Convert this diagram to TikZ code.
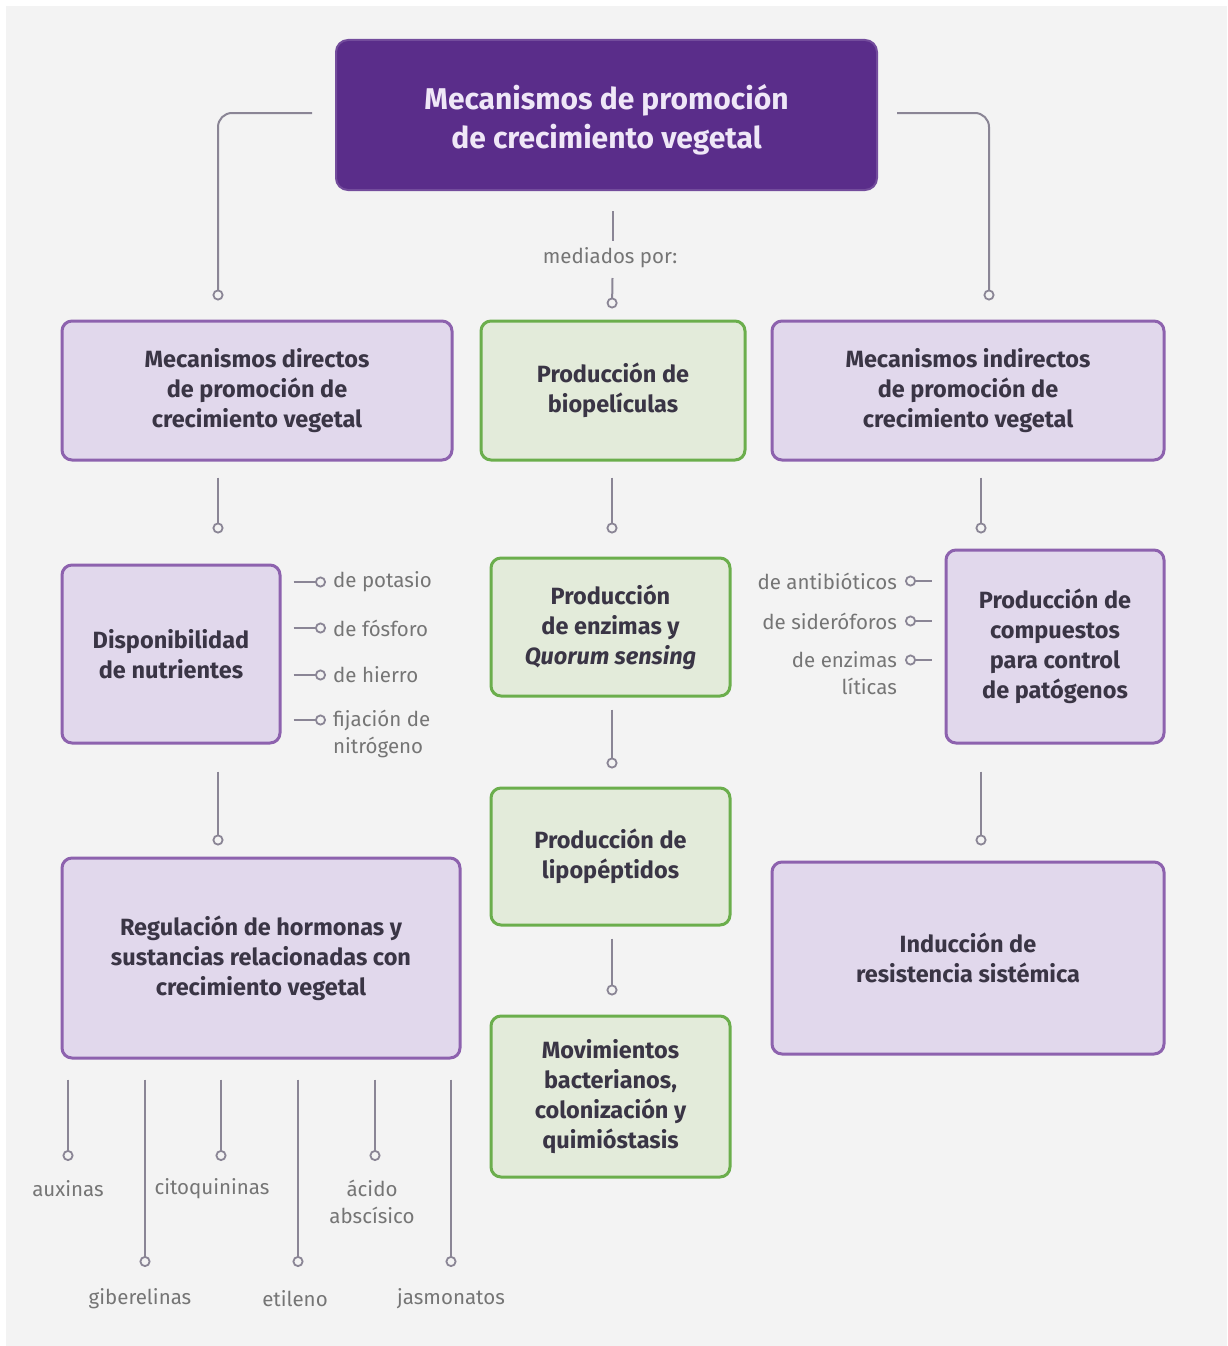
\documentclass[tikz,border=0pt]{standalone}
\usepackage{fontspec}
\setmainfont{Fira Sans}
\usetikzlibrary{arrows.meta,calc}
\definecolor{bgc}{HTML}{F3F3F3}
\definecolor{topc}{HTML}{5A2D8A}
\definecolor{toptext}{HTML}{EFE7F7}
\definecolor{pfill}{HTML}{E1D8EC}
\definecolor{pdraw}{HTML}{8D62AE}
\definecolor{gfill}{HTML}{E3EBDA}
\definecolor{gdraw}{HTML}{6BAE4C}
\definecolor{boxtext}{HTML}{3A3545}
\definecolor{labc}{HTML}{757575}
\definecolor{linec}{HTML}{8A8595}
\tikzset{
  box/.style={rectangle, rounded corners=10pt, line width=3pt, align=center,
    text=boxtext, font=\fontsize{23.5}{30}\selectfont\bfseries, inner sep=0pt},
  pbox/.style={box, fill=pfill, draw=pdraw},
  gbox/.style={box, fill=gfill, draw=gdraw},
  topbox/.style={rectangle, rounded corners=12pt, fill=topc, draw=topc!85!white, line width=2pt, inner sep=0pt},
  toptxt/.style={text=toptext, align=center, font=\fontsize{30}{39}\selectfont\bfseries, inner sep=0pt},
  lab/.style={text=labc, font=\fontsize{20.5}{27}\selectfont, inner sep=0pt},
  conn/.style={draw=linec, line width=2pt, -{Circle[open,length=11pt,width=11pt,line width=1.8pt]}},
  plain/.style={draw=linec, line width=2pt},
}
\begin{document}
\begin{tikzpicture}[x=1pt,y=-1pt]
\useasboundingbox (0,0) rectangle (1227,1346);
\fill[white] (0,0) rectangle (1227,1346);
\fill[bgc] (6,6) rectangle (1227,1346);

% boxes
\node[topbox, minimum width=541pt, minimum height=150pt] (top) at (606.5,115) {};
\node[toptxt] (toptext) at (606.5,120) {Mecanismos de promoción\\de crecimiento vegetal};

\node[pbox, minimum width=390pt, minimum height=139pt] (dir) at (257,390.5) {Mecanismos directos\\de promoción de\\crecimiento vegetal};
\node[gbox, minimum width=264pt, minimum height=139pt] (bio) at (613,390.5) {Producción de\\biopelículas};
\node[pbox, minimum width=392pt, minimum height=139pt] (ind) at (968,390.5) {Mecanismos indirectos\\de promoción de\\crecimiento vegetal};

\node[pbox, minimum width=218pt, minimum height=178pt] (nut) at (171,654) {Disponibilidad\\de nutrientes};
\node[gbox, minimum width=239pt, minimum height=138pt] (enz) at (610.5,627) {Producción\\de enzimas y\\\textit{Quorum sensing}};
\node[pbox, minimum width=218pt, minimum height=193pt] (comp) at (1055,646.5) {Producción de\\compuestos\\para control\\de patógenos};

\node[pbox, minimum width=398pt, minimum height=200pt] (reg) at (261,958) {Regulación de hormonas y\\sustancias relacionadas con\\crecimiento vegetal};
\node[gbox, minimum width=239pt, minimum height=137pt] (lip) at (610.5,856.5) {Producción de\\lipopéptidos};
\node[pbox, minimum width=392pt, minimum height=192pt] (isr) at (968,958) {Inducción de\\resistencia sistémica};
\node[gbox, minimum width=239pt, minimum height=161pt] (mov) at (610.5,1096.5) {Movimientos\\bacterianos,\\colonización y\\quimióstasis};

% top connectors
\draw[conn, rounded corners=14pt] ($(top.west)+(-23,-2)$) -| ($(dir.north)+(-39,-19)$);
\draw[conn, rounded corners=14pt] ($(top.east)+(19,-2)$) -| ($(ind.north)+(21,-19)$);
\node[lab, inner sep=3pt] (med) at (610,258) {mediados por:};
\draw[plain] ($(top.south)+(6,20)$) -- ($(top.south)+(6,50)$);
\draw[conn] ($(top.south)+(6,87)$) -- ($(bio.north)+(-1,-11)$);

% vertical connectors
\draw[conn] ($(dir.south)+(-39,16)$) -- ($(nut.north)+(47,-30)$);
\draw[conn] ($(bio.south)+(-1,16)$) -- ($(enz.north)+(1.5,-23)$);
\draw[conn] ($(ind.south)+(13,16)$) -- ($(comp.north)+(-74,-15)$);
\draw[conn] ($(nut.south)+(47,27)$) -- ($(reg.north)+(-43,-11)$);
\draw[conn] ($(enz.south)+(1.5,12)$) -- ($(lip.north)+(1.5,-18)$);
\draw[conn] ($(comp.south)+(-74,27)$) -- ($(isr.north)+(13,-15)$);
\draw[conn] ($(lip.south)+(1.5,12)$) -- ($(mov.north)+(1.5,-19)$);

% nutrient labels
\node[lab, anchor=west] (k1) at (333,582) {de potasio};
\node[lab, anchor=west] (k2) at (333,628) {de fósforo};
\node[lab, anchor=west] (k3) at (333,675) {de hierro};
\node[lab, anchor=west, align=left] (k4) at (333,734) {fijación de\\nitrógeno};
\draw[conn] ($(nut.east |- k1.west)+(12,0)$) -- ($(k1.west)+(-7,0)$);
\draw[conn] ($(nut.east |- k2.west)+(12,0)$) -- ($(k2.west)+(-7,0)$);
\draw[conn] ($(nut.east |- k3.west)+(12,0)$) -- ($(k3.west)+(-7,0)$);
\draw[conn] ($(nut.east |- k4.west)+(12,-14)$) -- ($(k4.west)+(-7,-14)$);

% pathogen labels
\node[lab, anchor=east] (a1) at (897,581) {de antibióticos};
\node[lab, anchor=east] (a2) at (897,621) {de sideróforos};
\node[lab, anchor=east, align=right] (a3) at (897,673) {de enzimas\\líticas};
\draw[conn] ($(comp.west |- a1.east)+(-13,0)$) -- ($(a1.east)+(8,0)$);
\draw[conn] ($(comp.west |- a2.east)+(-13,0)$) -- ($(a2.east)+(8,0)$);
\draw[conn] ($(comp.west |- a3.east)+(-13,-13)$) -- ($(a3.east)+(8,-13)$);

% hormone labels
\node[lab] (h1) at (68,1189) {auxinas};
\node[lab] (h2) at (140,1299) {giberelinas};
\node[lab] (h3) at (212,1189) {citoquininas};
\node[lab] (h4) at (295,1299) {etileno};
\node[lab, align=center] (h5) at (372,1202) {ácido\\abscísico};
\node[lab] (h6) at (451,1299) {jasmonatos};
\draw[conn] ($(reg.south -| h1)+(0,20)$) -- ($(h1.center)+(0,-28)$);
\draw[conn] ($(reg.south -| h2)+(5,20)$) -- ($(h2.center)+(5,-32)$);
\draw[conn] ($(reg.south -| h3)+(9,20)$) -- ($(h3.center)+(9,-28)$);
\draw[conn] ($(reg.south -| h4)+(3,20)$) -- ($(h4.center)+(3,-32)$);
\draw[conn] ($(reg.south -| h5)+(3,20)$) -- ($(h5.center)+(3,-41)$);
\draw[conn] ($(reg.south -| h6)+(0,20)$) -- ($(h6.center)+(0,-32)$);
\end{tikzpicture}
\end{document}
